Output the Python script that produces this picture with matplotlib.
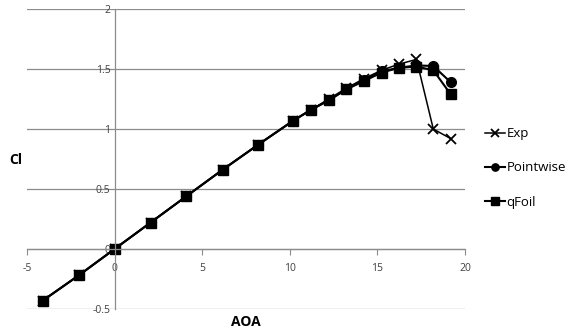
import matplotlib
matplotlib.use("Agg")
import matplotlib.pyplot as plt

# angle of attack and lift coefficient
aoa = [-4.1, -2.05, 0, 2.05, 4.1, 6.16, 8.2, 10.2, 11.21, 12.23, 13.22,
       14.24, 15.24, 16.22, 17.23, 18.19, 19.18]
cl_exp = [-0.43, -0.22, 0.0, 0.22, 0.44, 0.66, 0.87, 1.07, 1.16, 1.25, 1.34,
          1.42, 1.49, 1.54, 1.58, 1.00, 0.92]
cl_pointwise = [-0.43, -0.22, 0.0, 0.22, 0.44, 0.66, 0.87, 1.07, 1.16, 1.24, 1.33,
                1.41, 1.48, 1.51, 1.53, 1.525, 1.39]
cl_qfoil = [-0.43, -0.22, 0.0, 0.22, 0.44, 0.66, 0.87, 1.07, 1.16, 1.24, 1.33,
            1.40, 1.47, 1.51, 1.52, 1.49, 1.29]

xticks = [-5, 0, 5, 10, 15, 20]
yticks = [-0.5, 0, 0.5, 1, 1.5, 2]

plt.rcParams['font.family'] = ['Open Sans', 'DejaVu Sans']

fig = plt.figure(figsize=(5.87, 3.33), dpi=100)
ax = fig.add_axes([27 / 587, 24 / 333, 438 / 587, 300 / 333])

ax.plot(aoa, cl_exp, color='black', lw=1.1, marker='x', ms=7, mew=1.3, label='Exp')
ax.plot(aoa, cl_pointwise, color='black', lw=1.5, marker='o', ms=7, label='Pointwise')
ax.plot(aoa, cl_qfoil, color='black', lw=1.5, marker='s', ms=7.5, label='qFoil')

ax.set_xlim(-5, 20)
ax.set_ylim(-0.5, 2)
ax.set_xticks(xticks)
ax.set_yticks(yticks)
ax.set_xticklabels([str(t) for t in xticks])
ax.set_yticklabels(['-0.5', '0', '0.5', '1', '1.5', '2'])

grey = '#8c8c8c'
ax.spines['left'].set_position(('data', 0))
ax.spines['bottom'].set_position(('data', 0))
ax.spines['top'].set_visible(False)
ax.spines['right'].set_visible(False)
for s in ('left', 'bottom'):
    ax.spines[s].set_color(grey)
    ax.spines[s].set_linewidth(0.9)

ax.yaxis.grid(True, color=grey, lw=0.9)
ax.set_axisbelow(True)
ax.tick_params(axis='y', length=0, pad=3, labelsize=7.5, labelcolor='#404040')
ax.tick_params(axis='x', length=4, color=grey, pad=6, labelsize=7.5, labelcolor='#404040')

fig.text(16 / 587, 1 - 160 / 333, 'Cl', fontsize=10, fontweight='bold', ha='center', va='center')
fig.text(246 / 587, 1 - 322 / 333, 'AOA', fontsize=10, fontweight='bold', ha='center', va='center')

ax.legend(loc='center left', bbox_to_anchor=(480 / 587, 1 - 168 / 333),
          bbox_transform=fig.transFigure, frameon=False, fontsize=9.5,
          handlelength=1.5, handletextpad=0.1, labelspacing=1.6, borderaxespad=0,
          markerscale=0.75)

fig.savefig('out.png', dpi=100)
